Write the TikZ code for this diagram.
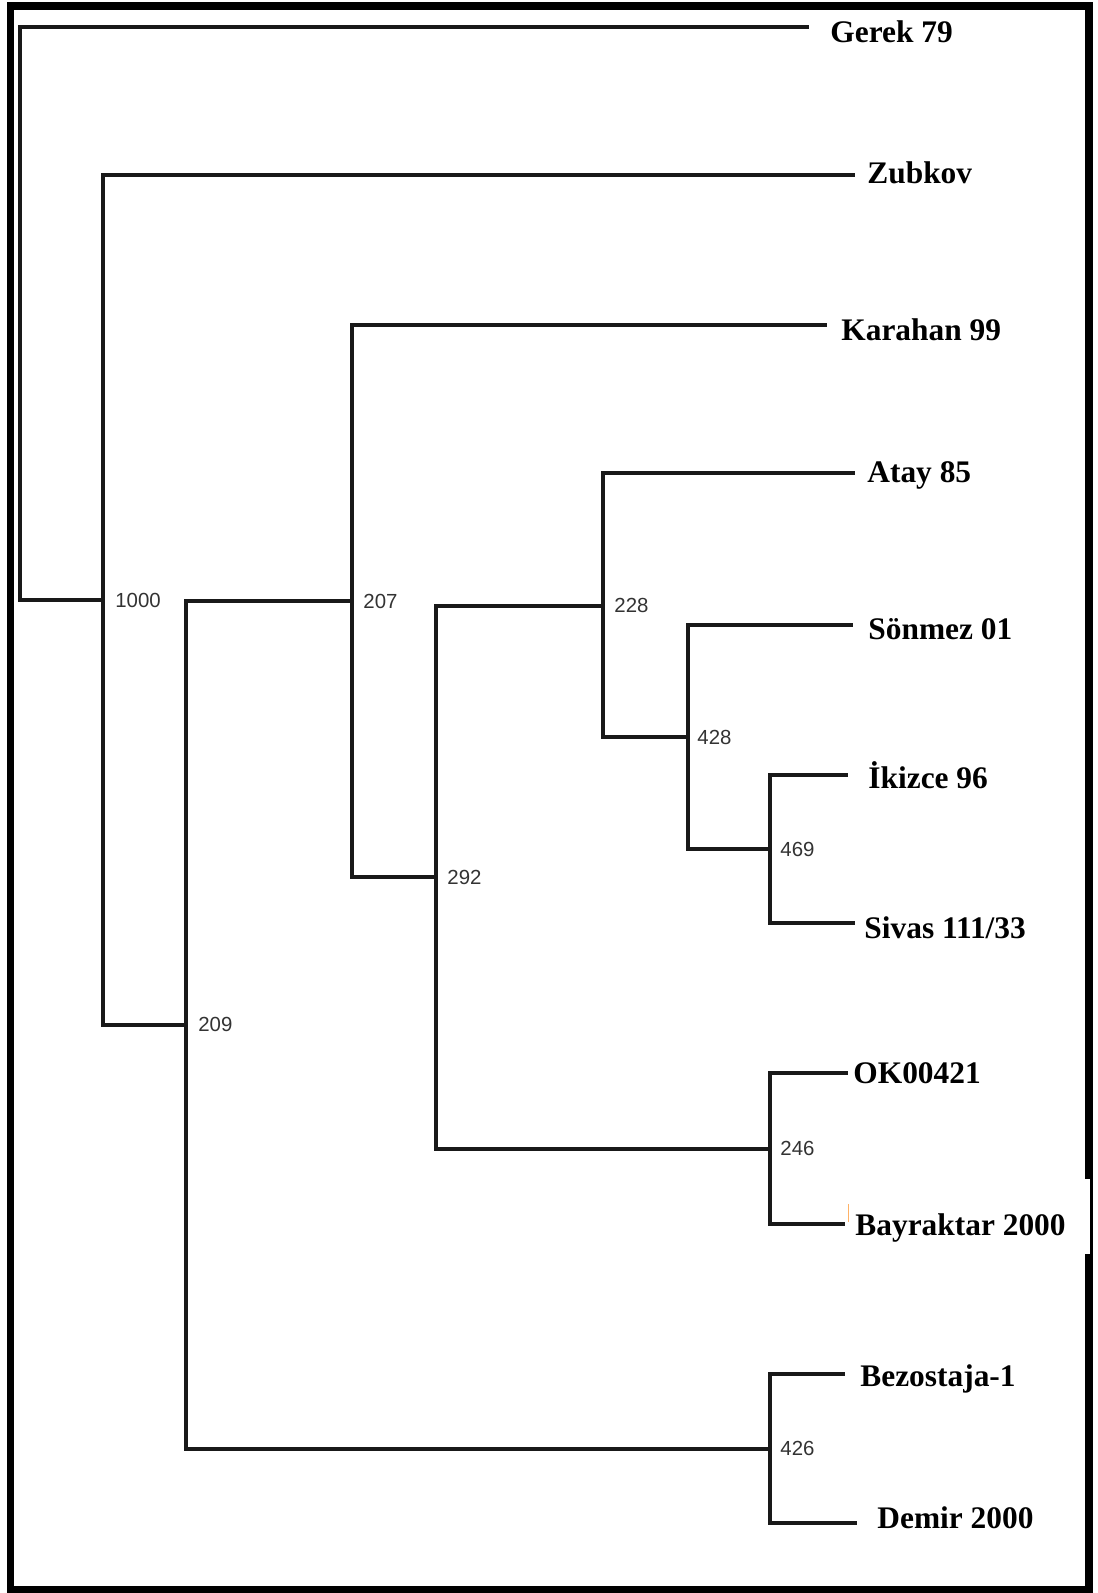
\documentclass[tikz,border=0pt]{standalone}
\usepackage{fontspec}
\setmainfont{Liberation Serif}
\newfontfamily\numfont{Liberation Sans}
\begin{document}
\begin{tikzpicture}[x=0.5pt,y=-0.5pt,
  branch/.style={line width=1.6pt,line cap=rect,line join=miter,black!90},
  leaf/.style={anchor=base west,inner sep=0pt,font=\fontsize{15.7}{18}\selectfont\bfseries},
  boot/.style={anchor=west,inner sep=0pt,font=\numfont\fontsize{10.2}{12}\selectfont,text=black!80}]
\useasboundingbox (0,0) rectangle (1097,1593);
\fill[white] (0,0) rectangle (1097,1593);
% frame
\draw[line width=3.8pt] (10.5,6) rectangle (1089,1590);
\fill[white] (848,1179) rectangle (1090,1254);
\draw[orange!60,line width=0.5pt] (848,1204) -- (848,1222);
% internal nodes
\coordinate (r) at (20,600);
\coordinate (a1000) at (103,600);
\coordinate (a209) at (186,1025);
\coordinate (a207) at (352,601);
\coordinate (a292) at (436,877);
\coordinate (a228) at (603,606);
\coordinate (a428) at (688,737);
\coordinate (a469) at (770,849);
\coordinate (a246) at (770,1149);
\coordinate (a426) at (770,1449);
% leaf tips
\coordinate (eGer) at (807,27);
\coordinate (eZub) at (853,175);
\coordinate (eKar) at (825,325);
\coordinate (eAta) at (853,473);
\coordinate (eSon) at (851,625);
\coordinate (eIki) at (846,775);
\coordinate (eSiv) at (853,923);
\coordinate (eOK) at (846,1073);
\coordinate (eBay) at (843,1224);
\coordinate (eBez) at (843,1374);
\coordinate (eDem) at (855,1523);
% branches
\draw[branch] (r) |- (eGer);
\draw[branch] (r) -- (a1000);
\draw[branch] (a1000) |- (eZub);
\draw[branch] (a1000) |- (a209);
\draw[branch] (a209) |- (a207);
\draw[branch] (a209) |- (a426);
\draw[branch] (a207) |- (eKar);
\draw[branch] (a207) |- (a292);
\draw[branch] (a292) |- (a228);
\draw[branch] (a292) |- (a246);
\draw[branch] (a228) |- (eAta);
\draw[branch] (a228) |- (a428);
\draw[branch] (a428) |- (eSon);
\draw[branch] (a428) |- (a469);
\draw[branch] (a469) |- (eIki);
\draw[branch] (a469) |- (eSiv);
\draw[branch] (a246) |- (eOK);
\draw[branch] (a246) |- (eBay);
\draw[branch] (a426) |- (eBez);
\draw[branch] (a426) |- (eDem);
% leaf labels
\node[leaf] (lGer) at (830,43) {Gerek 79};
\node[leaf] (lZub) at (867,184) {Zubkov};
\node[leaf] (lKar) at (841,341) {Karahan 99};
\node[leaf] (lAta) at (867,482) {Atay 85};
\node[leaf] (lSon) at (868,639) {Sönmez 01};
\node[leaf] (lIki) at (868,788) {İkizce 96};
\node[leaf] (lSiv) at (864,938) {Sivas 111/33};
\node[leaf] (lOK) at (853,1083) {OK00421};
\node[leaf] (lBay) at (855,1235) {Bayraktar 2000};
\node[leaf] (lBez) at (860,1386) {Bezostaja-1};
\node[leaf] (lDem) at (877,1528) {Demir 2000};
% bootstrap values
\node[boot] (b1000) at (115,600) {1000};
\node[boot] (b209) at (198,1024) {209};
\node[boot] (b207) at (363,601) {207};
\node[boot] (b292) at (447,877) {292};
\node[boot] (b228) at (614,605) {228};
\node[boot] (b428) at (697,737) {428};
\node[boot] (b469) at (780,849) {469};
\node[boot] (b246) at (780,1148) {246};
\node[boot] (b426) at (780,1448) {426};
\end{tikzpicture}
\end{document}
